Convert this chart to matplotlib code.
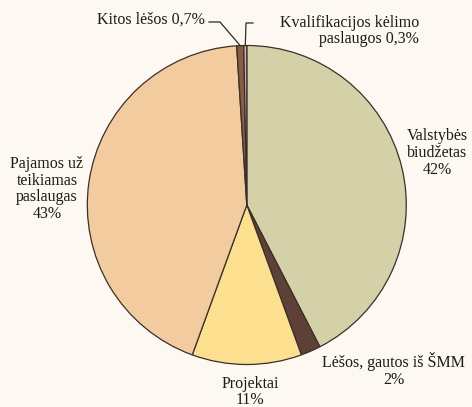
import numpy as np
import matplotlib.pyplot as plt

# --- DATA ---
sources = ["Valstybės biudžetas", "Lėšos, gautos iš ŠMM", "Projektai",
           "Pajamos už teikiamas paslaugas", "Kitos lėšos",
           "Kvalifikacijos kėlimo paslaugos"]
shares = [42, 2, 11, 43, 0.7, 0.3]
labels = ["Valstybės\nbiudžetas\n42%", "Lėšos, gautos iš ŠMM\n2%",
          "Projektai\n11%", "Pajamos už\nteikiamas\npaslaugas\n43%",
          "Kitos lėšos 0,7%", "Kvalifikacijos kėlimo\npaslaugos 0,3%"]
colors = ["#d4d0a8", "#5e4136", "#fde08f", "#f2cc9e", "#875b45", "#d4aca3"]

BG = "#fdf8f1"
W, H = 472, 407

plt.rcParams['font.family'] = ['Liberation Serif', 'DejaVu Serif']

fig = plt.figure(figsize=(W / 100, H / 100), dpi=100, facecolor=BG)
ax = fig.add_axes([0, 0, 1, 1])
ax.set_facecolor(BG)

# pie in pixel-like coordinates (y up)
cx, cy, r = 246.8, H - 205.0, 159.5
wedges, _ = ax.pie(shares, colors=colors, startangle=90, counterclock=False,
                   center=(cx, cy), radius=r,
                   wedgeprops=dict(edgecolor="#3b2f2b", linewidth=0.9))
ax.set_xlim(0, W)
ax.set_ylim(0, H)
ax.set_aspect('equal')
ax.axis('off')

fs = 11.5
tc = "#1b1b1b"

def top(y):
    return H - y

# labels around the pie
ax.text(437, top(153), labels[0], ha='center', va='center', fontsize=fs,
        color=tc, linespacing=1.05)
ax.text(394, top(370), labels[1], ha='center', va='center', fontsize=fs,
        color=tc, linespacing=1.05)
ax.text(250, top(392), labels[2], ha='center', va='center', fontsize=fs,
        color=tc, linespacing=1.05)
ax.text(47, top(189), labels[3], ha='center', va='center', fontsize=fs,
        color=tc, linespacing=1.05)
ax.text(205, top(20), labels[4], ha='right', va='center', fontsize=fs,
        color=tc)
ax.text(419, top(31), labels[5], ha='right', va='center', fontsize=fs,
        color=tc, linespacing=1.05)

# leader lines for the two thin slices
def edge_point(w):
    mid = np.deg2rad((w.theta1 + w.theta2) / 2)
    return cx + r * np.cos(mid), cy + r * np.sin(mid)

ex, ey = edge_point(wedges[4])
ax.plot([209, 220, ex], [top(22), top(22), ey], color="#2b2b2b", lw=0.9)
ex, ey = edge_point(wedges[5])
ax.plot([253, 246, ex], [top(23), top(23), ey], color="#2b2b2b", lw=0.9)

fig.savefig("out.png", dpi=100, facecolor=BG)
